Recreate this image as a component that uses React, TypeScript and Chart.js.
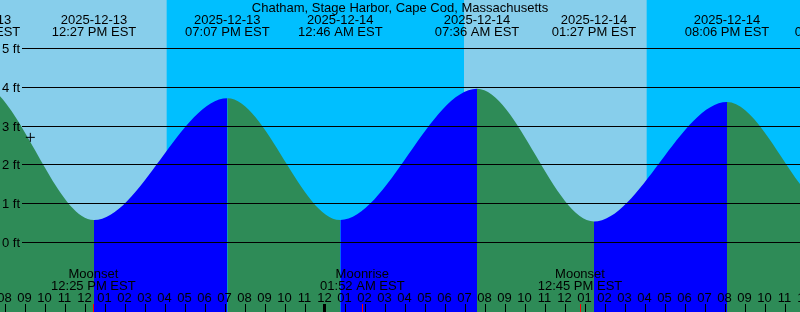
import React, { useEffect, useRef } from "react";
import { Chart, registerables } from "chart.js";

Chart.register(...registerables);

// ---------- data ----------
const chartTitle = "Chatham, Stage Harbor, Cape Cod, Massachusetts";
const originDate = "2025-12-13"; // hour 0 = midnight starting this date

const tideDates = [
  "2025-12-13", "2025-12-13", "2025-12-13", "2025-12-13", "2025-12-14",
  "2025-12-14", "2025-12-14", "2025-12-14", "2025-12-15", "2025-12-15",
];
const tideTimes = [
  "12:20 AM EST", "06:39 AM EST", "12:27 PM EST", "07:07 PM EST", "12:46 AM EST",
  "07:36 AM EST", "01:27 PM EST", "08:06 PM EST", "01:36 AM EST", "08:30 AM EST",
];
const tideHeights = [0.6, 4.1, 0.58, 3.72, 0.58, 3.96, 0.54, 3.62, 0.75, 3.8];

const moonDates = ["2025-12-13", "2025-12-14", "2025-12-14"];
const moonTimes = ["12:25 PM EST", "01:52 AM EST", "12:45 PM EST"];
const moonEvents = ["Moonset", "Moonrise", "Moonset"];

const sunDates = ["2025-12-13", "2025-12-14", "2025-12-14", "2025-12-15"];
const sunTimes = ["04:05 PM EST", "06:57 AM EST", "04:05 PM EST", "06:58 AM EST"];
const sunEvents = ["Sunset", "Sunrise", "Sunset", "Sunrise"];

const nowDates = ["2025-12-13"];
const nowTimes = ["09:16 AM EST"];
const nowLevels = [2.71];

const firstHourTick = 8; // hours after origin
const hourTickLabels = [
  "08", "09", "10", "11", "12",
  "01", "02", "03", "04", "05", "06", "07", "08", "09", "10", "11", "12",
  "01", "02", "03", "04", "05", "06", "07", "08", "09", "10", "11", "12",
  "01", "02", "03", "04", "05", "06", "07", "08", "09", "10", "11", "12",
];

const levelTickValues = [0, 1, 2, 3, 4, 5];
const levelTickLabels = ["0 ft", "1 ft", "2 ft", "3 ft", "4 ft", "5 ft"];

const viewStartHour = 7.75;
const viewEndHour = 47.75;
const levelMin = -1.7912;
const levelMax = 6.25;

// ---------- styles ----------
const DAY = "#87CEEB";
const NIGHT = "#00BFFF";
const RISING = "#0000FF";
const FALLING = "#2E8B57";
const FONT = '13px "Liberation Sans", Arial, sans-serif';

function toHours(date: string, time: string): number {
  const [y, m, d] = date.split("-").map(Number);
  const [oy, om, od] = originDate.split("-").map(Number);
  const days = (Date.UTC(y, m - 1, d) - Date.UTC(oy, om - 1, od)) / 86400000;
  const [hm, ampm] = time.split(" ");
  const [hh, mm] = hm.split(":").map(Number);
  const h = (hh % 12) + (ampm === "PM" ? 12 : 0) + mm / 60;
  return days * 24 + h;
}

const tideHours = tideDates.map((d, i) => toHours(d, tideTimes[i]));
const moonHours = moonDates.map((d, i) => toHours(d, moonTimes[i]));
const sunHours = sunDates.map((d, i) => toHours(d, sunTimes[i]));
const nowHours = nowDates.map((d, i) => toHours(d, nowTimes[i]));

const decorPlugin = {
  id: "tideDecor",
  beforeDatasetsDraw(chart: any) {
    const { ctx, chartArea: a, scales } = chart;
    const x = scales.x;
    ctx.save();
    ctx.fillStyle = DAY;
    ctx.fillRect(a.left, a.top, a.right - a.left, a.bottom - a.top);
    ctx.fillStyle = NIGHT;
    for (let i = 0; i < sunHours.length; i++) {
      if (sunEvents[i] !== "Sunset") continue;
      const x0 = x.getPixelForValue(sunHours[i]);
      const x1 = i + 1 < sunHours.length ? x.getPixelForValue(sunHours[i + 1]) : a.right;
      ctx.fillRect(x0, a.top, x1 - x0, a.bottom - a.top);
    }
    ctx.restore();
  },
  afterDatasetsDraw(chart: any) {
    const { ctx, chartArea: a, scales } = chart;
    const x = scales.x;
    const y = scales.y;
    ctx.save();
    ctx.fillStyle = "#000";
    levelTickValues.forEach((v) => {
      const py = Math.floor(y.getPixelForValue(v));
      ctx.fillRect(22, py, a.right - 22, 1);
    });
    ctx.font = FONT;
    ctx.textBaseline = "alphabetic";
    ctx.textAlign = "right";
    levelTickValues.forEach((v, i) => {
      const py = Math.floor(y.getPixelForValue(v));
      ctx.fillText(levelTickLabels[i], 20, py + 5);
    });
    ctx.textAlign = "center";
    ctx.fillText(chartTitle, (a.left + a.right) / 2, 12);
    tideHours.forEach((h, i) => {
      const px = x.getPixelForValue(h);
      ctx.fillText(tideDates[i], px, 24);
      ctx.fillText(tideTimes[i], px, 36);
    });
    moonHours.forEach((h, i) => {
      const px = x.getPixelForValue(h);
      ctx.fillText(moonEvents[i], px, 278);
      ctx.fillText(moonTimes[i], px, 290);
    });
    hourTickLabels.forEach((lab, i) => {
      const h = firstHourTick + i;
      const px = Math.round(x.getPixelForValue(h));
      if (h % 24 === 0) ctx.fillRect(px - 2, 304, 3, 8);
      else ctx.fillRect(px, 304, 1, 8);
      ctx.fillText(lab, px - 0.5, 302);
    });
    ctx.fillStyle = "#FF0000";
    moonHours.forEach((h) => {
      const px = Math.floor(x.getPixelForValue(h));
      ctx.fillRect(px, 304, 1, 8);
    });
    ctx.restore();
  },
};

export default function App() {
  const canvasRef = useRef<HTMLCanvasElement | null>(null);

  useEffect(() => {
    const canvas = canvasRef.current;
    if (!canvas) return;
    const chart = new Chart(canvas, {
      type: "line",
      data: {
        datasets: [
          {
            label: "now",
            data: nowHours.map((h, i) => ({ x: h, y: nowLevels[i] })),
            showLine: false,
            pointStyle: "cross",
            pointRadius: 4.5,
            pointBorderColor: "#000",
            pointBorderWidth: 1,
            pointBackgroundColor: "#000",
            fill: false,
          },
          {
            label: "tide",
            data: tideHours.map((h, i) => ({ x: h, y: tideHeights[i] })),
            cubicInterpolationMode: "monotone",
            borderWidth: 0,
            borderColor: "rgba(0,0,0,0)",
            backgroundColor: FALLING,
            pointRadius: 0,
            fill: "start",
            segment: {
              backgroundColor: (c: any) =>
                tideHeights[c.p1DataIndex] > tideHeights[c.p0DataIndex] ? RISING : FALLING,
            },
          } as any,
        ],
      },
      options: {
        responsive: false,
        maintainAspectRatio: false,
        devicePixelRatio: 1,
        animation: false,
        events: [],
        layout: { padding: 0, autoPadding: false },
        elements: { line: { capBezierPoints: false } },
        plugins: {
          legend: { display: false },
          tooltip: { enabled: false },
        },
        scales: {
          x: {
            type: "linear",
            display: false,
            bounds: "data",
            afterDataLimits: (s: any) => {
              s.min = viewStartHour;
              s.max = viewEndHour;
            },
          },
          y: {
            type: "linear",
            display: false,
            bounds: "data",
            min: levelMin,
            max: levelMax,
          },
        },
      } as any,
      plugins: [decorPlugin],
    });
    return () => chart.destroy();
  }, []);

  return (
    <div style={{ position: "absolute", left: 0, top: 0, width: 800, height: 312 }}>
      <canvas ref={canvasRef} width={800} height={312} style={{ display: "block" }} />
    </div>
  );
}
